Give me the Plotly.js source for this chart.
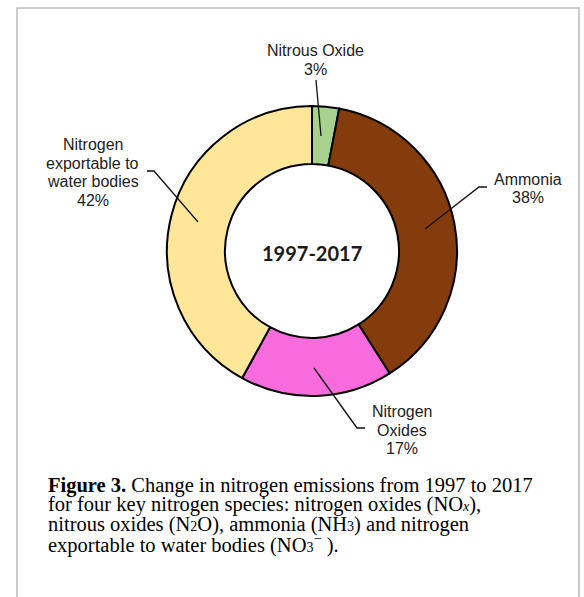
<!DOCTYPE html>
<html>
<head>
<meta charset="utf-8">
<script src="https://cdn.plot.ly/plotly-3.0.1.min.js"></script>
<style>
  html, body { margin: 0; padding: 0; background: #fff; }
  #chart { width: 584px; height: 597px; }
</style>
</head>
<body>
<div id="chart"></div>
<script>
// ---- data ----
const categories = ['Nitrous Oxide', 'Ammonia', 'Nitrogen Oxides', 'Nitrogen exportable to water bodies'];
const labelLines = [['Nitrous Oxide'], ['Ammonia'], ['Nitrogen', 'Oxides'], ['Nitrogen', 'exportable to', 'water bodies']];
const shares = [3, 38, 17, 42];
const sliceColors = ['#a9d18e', '#843c0c', '#f76bdd', '#ffe699'];
const centerLabel = '1997-2017';
const sub = t => '<span style="font-size:14px">' + t + '</span>';
const captionLines = [
  '<b>Figure 3.</b> Change in nitrogen emissions from 1997 to 2017',
  'for four key nitrogen species: nitrogen oxides (NO' + sub('<i>x</i>') + '),',
  'nitrous oxides (N' + sub('2') + 'O), ammonia (NH' + sub('3') + ') and nitrogen',
  'exportable to water bodies (NO' + sub('3') + '<sup>\u2212</sup> ).'
];

// ---- layout helpers (pixel -> paper) ----
const W = 584, H = 597;
const px = x => x / W;
const py = y => 1 - y / H;

// label block centres (pixels) and leader paths (pixels)
const labelPos = [[315, 60], [528, 188.5], [402, 430], [92.5, 172.5]];
const leaders = [
  [[316, 80], [321, 136]],
  [[425, 229], [479, 187], [487, 187]],
  [[314, 368], [357, 428], [365, 428]],
  [[147, 171], [154, 171], [198, 222]]
];
const lineGap = 18.8;

const annotations = [];
categories.forEach((c, i) => {
  const lines = labelLines[i].concat([shares[i] + '%']);
  const n = lines.length;
  lines.forEach((t, j) => {
    annotations.push({
      xref: 'paper', yref: 'paper',
      x: px(labelPos[i][0]),
      y: py(labelPos[i][1] + (j - (n - 1) / 2) * lineGap),
      xanchor: 'center', yanchor: 'middle',
      text: t, showarrow: false,
      font: { family: 'Liberation Sans, Arial, sans-serif', size: 16, color: '#222' }
    });
  });
});
annotations.push({
  xref: 'paper', yref: 'paper', x: px(312), y: py(253),
  xanchor: 'center', yanchor: 'middle', text: '<b>' + centerLabel + '</b>', showarrow: false,
  font: { family: 'Lato, Carlito, sans-serif', size: 20, color: '#1a1a1a' }
});
const capY = [485, 504.5, 524, 543];
captionLines.forEach((t, i) => {
  annotations.push({
    xref: 'paper', yref: 'paper', x: px(46), y: py(capY[i]),
    xanchor: 'left', yanchor: 'middle', align: 'left', text: t, showarrow: false,
    font: { family: 'Liberation Serif, Times New Roman, serif', size: 20.5, color: '#000' }
  });
});

const shapes = [{
  type: 'rect', xref: 'paper', yref: 'paper',
  x0: px(17), x1: px(579), y0: py(8), y1: py(640),
  line: { color: '#bdbdbd', width: 1.5 }, fillcolor: 'rgba(0,0,0,0)'
}];
leaders.forEach(pts => {
  const d = pts.map((p, k) => (k ? 'L' : 'M') + px(p[0]) + ',' + py(p[1])).join(' ');
  shapes.push({ type: 'path', xref: 'paper', yref: 'paper', path: d, line: { color: '#111', width: 1.3 } });
});

const trace = {
  type: 'pie',
  labels: categories,
  values: shares,
  hole: 0.6,
  sort: false,
  direction: 'clockwise',
  rotation: 0,
  textinfo: 'none',
  marker: { colors: sliceColors, line: { color: '#000', width: 2 } },
  domain: { x: [px(167), px(457)], y: [py(396), py(106)] },
  showlegend: false
};

const layout = {
  width: W, height: H,
  margin: { l: 0, r: 0, t: 0, b: 0 },
  paper_bgcolor: '#fff',
  showlegend: false,
  annotations: annotations,
  shapes: shapes
};

Plotly.newPlot('chart', [trace], layout, { displayModeBar: false, staticPlot: true });
</script>
</body>
</html>
